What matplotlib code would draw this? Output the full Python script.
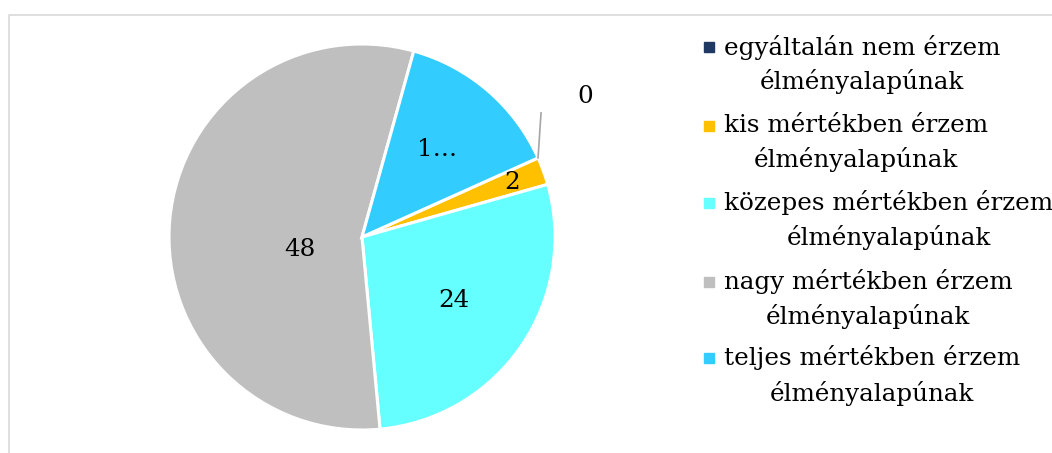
import matplotlib.pyplot as plt
import numpy as np
from matplotlib.lines import Line2D
from matplotlib.patches import Rectangle

# Survey answers and counts
labels = ["egyáltalán nem érzem\nélményalapúnak",
          "kis mértékben érzem\nélményalapúnak",
          "közepes mértékben érzem\nélményalapúnak",
          "nagy mértékben érzem\nélményalapúnak",
          "teljes mértékben érzem\nélményalapúnak"]
values = [0, 2, 24, 48, 12]
value_texts = ["0", "2", "24", "48", "1…"]
colors = ["#1F3864", "#FFC000", "#66FFFF", "#BFBFBF", "#33CCFF"]

W, H = 1052, 453
plt.rcParams['font.family'] = ['DejaVu Serif']
fs = 17.7

fig = plt.figure(figsize=(W / 100, H / 100), dpi=100)

# pie axes in pixel units, centre at (362, 237)
cx, cy, R = 362, 237, 193
ax = fig.add_axes([(cx - 200) / W, (H - cy - 200) / H, 400 / W, 400 / H])

wedges, _ = ax.pie(values, colors=colors, radius=R, startangle=24.2, counterclock=False,
                   wedgeprops=dict(edgecolor='white', linewidth=2.2))
ax.set_xlim(-200, 200)
ax.set_ylim(-200, 200)
ax.axis('off')

# data labels: radial distance (fraction of radius) and angle tweak in degrees
label_dist = [1.37, 0.83, 0.58, 0.33, 0.6]
label_turn = [0, 0, 0, 16, 0]
for w, txt, d, t in zip(wedges, value_texts, label_dist, label_turn):
    ang = np.deg2rad((w.theta1 + w.theta2) / 2 + t)
    if txt == "0":
        ang = np.deg2rad(w.theta1 + 8)
        ex, ey = R * np.cos(np.deg2rad(w.theta1)), R * np.sin(np.deg2rad(w.theta1))
        ax.plot([ex, ex + 3], [ey, ey + 45], color='#A6A6A6', lw=1.2)
    ax.text(d * R * np.cos(ang), d * R * np.sin(ang), txt, fontsize=fs,
            ha='center', va='center', color='black')

# legend drawn by hand, text lines centred within each block
block_y = [64.5, 143.5, 220, 299, 375.5]
for lab, col, y in zip(labels, colors, block_y):
    sq = Rectangle(((709 - 5) / W, 1 - (y - 17.5 + 5) / H), 10 / W, 10 / H,
                   transform=fig.transFigure, color=col)
    fig.add_artist(sq)
    fig.text(724 / W, 1 - y / H, lab, fontsize=fs, ha='left', va='center',
             multialignment='center', linespacing=1.5)

# chart area frame (only top and left visible)
fig.add_artist(Line2D([9 / W, 9 / W, 1.0], [0, 1 - 15 / H, 1 - 15 / H],
                      transform=fig.transFigure, color='#D9D9D9', lw=1.2))

fig.savefig("out.png", dpi=100)
